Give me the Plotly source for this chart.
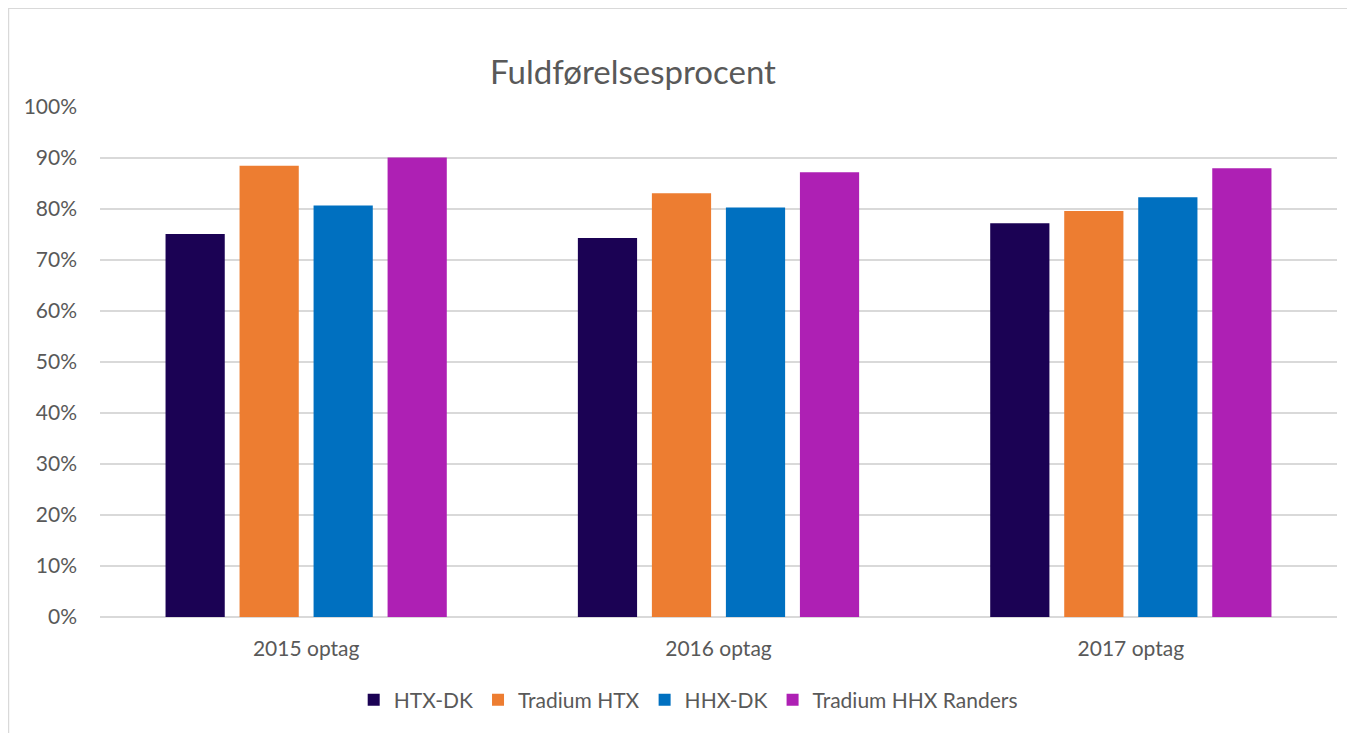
import plotly.graph_objects as go

categories = ["2015 optag", "2016 optag", "2017 optag"]
series_names = ["HTX-DK", "Tradium HTX", "HHX-DK", "Tradium HHX Randers"]
htx_dk = [0.751, 0.743, 0.772]
tradium_htx = [0.885, 0.831, 0.796]
hhx_dk = [0.807, 0.803, 0.823]
tradium_hhx = [0.901, 0.872, 0.880]
colors = ["#1B0254", "#ED7D31", "#0070C0", "#AE20B4"]
y_ticks = [i / 10 for i in range(11)]
y_tick_labels = [f"{i*10}%" for i in range(11)]

font_family = "Lato, 'Open Sans', sans-serif"
fig = go.Figure()
for name, vals, col in zip(series_names, [htx_dk, tradium_htx, hhx_dk, tradium_hhx], colors):
    fig.add_trace(go.Bar(x=categories, y=vals, name=name, marker=dict(color=col, line=dict(width=0))))

W, H = 1347, 725
fig.update_layout(
    width=W, height=H,
    barmode="group", bargap=0.282, bargroupgap=0.2,
    margin=dict(l=92, r=18, t=99, b=116),
    plot_bgcolor="white", paper_bgcolor="white",
    font=dict(family=font_family, color="#595959", size=21),
    title=dict(text="Fuldførelsesprocent", x=625 / W, xanchor="center", y=1 - 64 / H, yanchor="middle",
               font=dict(size=33, color="#595959", family=font_family)),
    legend=dict(orientation="h", x=0.4755, xanchor="center", y=-0.163, yanchor="middle",
                font=dict(size=21, color="#595959"), traceorder="normal", itemwidth=30),
    showlegend=True,
)
fig.update_yaxes(range=[0, 1], tickvals=y_ticks, ticktext=y_tick_labels, showgrid=True,
                 gridcolor="#D9D9D9", gridwidth=1.5, zeroline=True, zerolinecolor="#D9D9D9",
                 zerolinewidth=1.5, ticks="", showline=False, ticklabelstandoff=22)
fig.update_xaxes(showgrid=False, ticks="", showline=False, ticklabelstandoff=17)

# outer chart border
fig.add_shape(type="rect", xref="paper", yref="paper", x0=-0.0740, x1=1.0135, y0=-0.4, y1=1.1935,
              line=dict(color="#D9D9D9", width=1.5), fillcolor="rgba(0,0,0,0)", layer="below")

fig.write_html("out.html")
